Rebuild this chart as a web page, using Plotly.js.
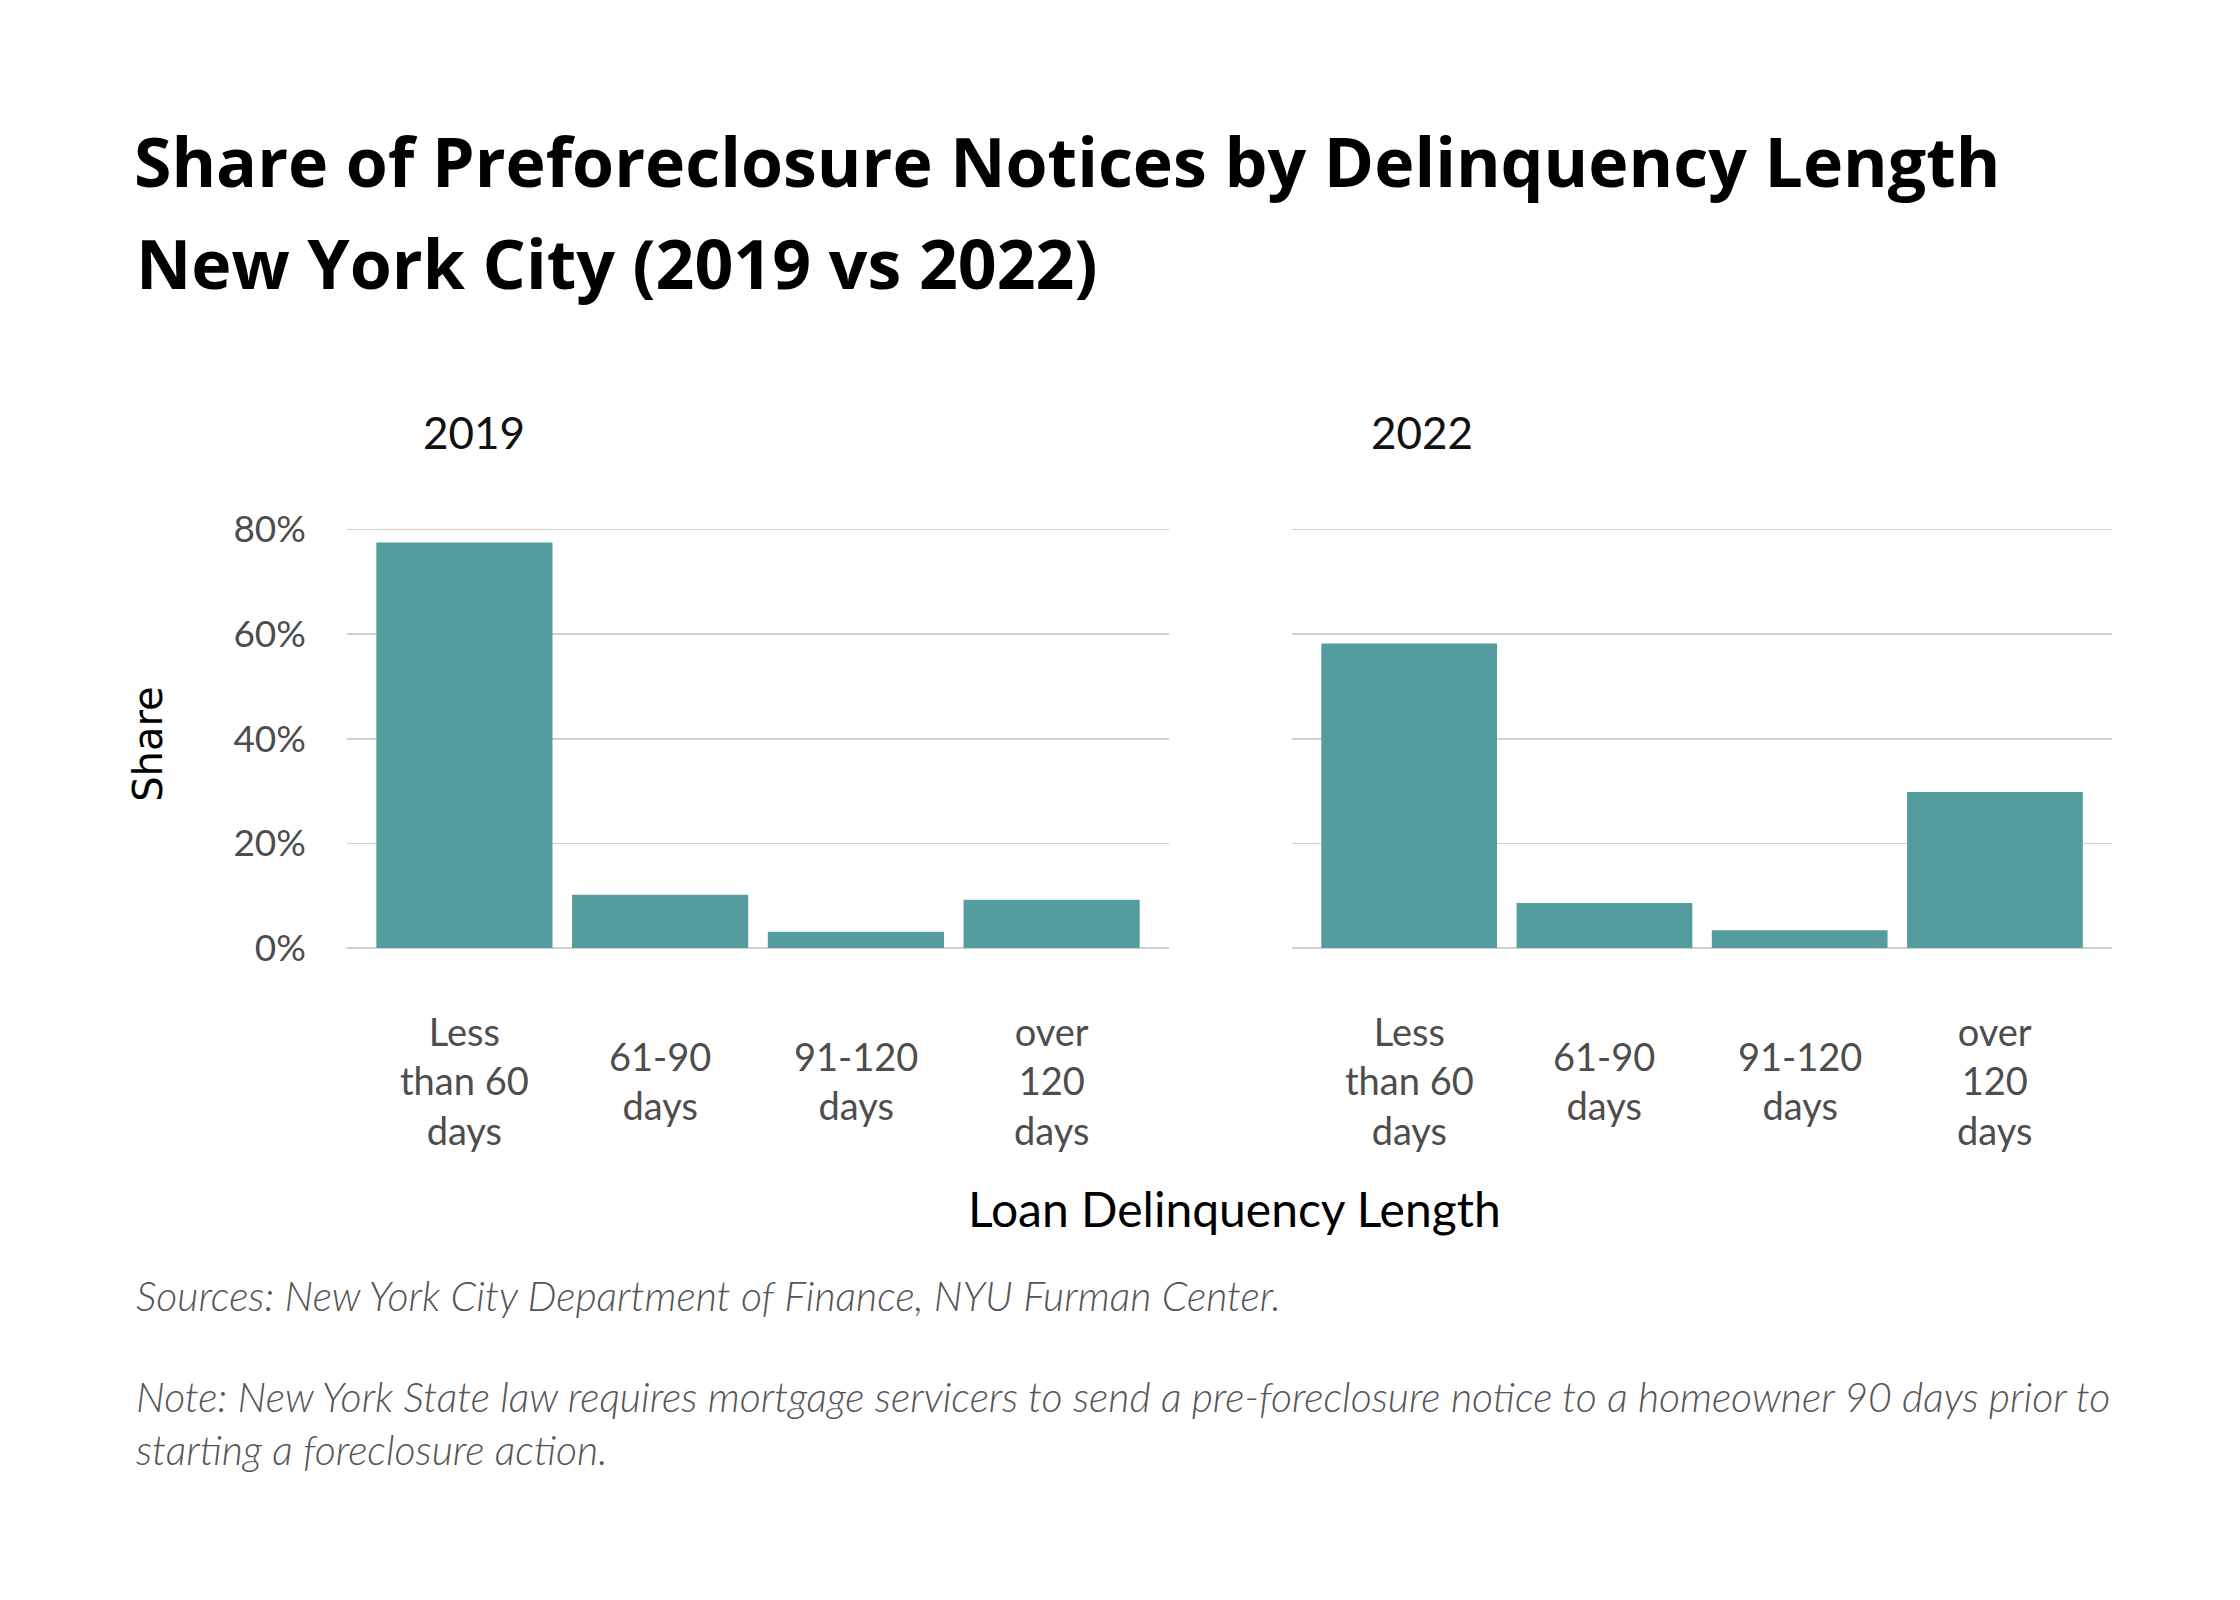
<!doctype html>
<html>
<head>
    <meta charset="utf-8">
    <title>Preforeclosure notices by delinquency length</title>
    <style>
        body {margin: 0; background: #ffffff;}
    </style>
    <script src="https://cdn.plot.ly/plotly-3.0.1.min.js"></script>
</head>
<body>
    <div id="chart"></div>
    <script>
        // ====== DATA ==================================================
        let categories = ['Less than 60 days', '61-90 days', '91-120 days', 'over 120 days'];
        let categoryLabels = ['Less<br>than 60<br>days', '61-90<br>days', '91-120<br>days', 'over<br>120<br>days'];
        let share2019 = [77.5, 10.2, 3.1, 9.2];
        let share2022 = [58.2, 8.6, 3.4, 29.8];
        let panelTitles = ['2019', '2022'];
        let yTicks = [0, 20, 40, 60, 80];
        let yTickText = ['0%', '20%', '40%', '60%', '80%'];

        let titleLine1 = 'Share of Preforeclosure Notices by Delinquency Length';
        let titleLine2 = 'New York City (2019 vs 2022)';
        let sourceText = 'Sources: New York City Department of Finance, NYU Furman Center.';
        let noteText = 'Note: New York State law requires mortgage servicers to send a pre-foreclosure notice to a homeowner 90 days prior to<br>starting a foreclosure action.';

        // ====== SETTINGS ==============================================
        let barColor = '#559c9e';
        let gridColor = '#d0d0d0';
        let tickColor = '#4d4d4d';
        let baseFont = 'Lato, "Open Sans", sans-serif';
        let titleFont = '"Open Sans", Lato, sans-serif';

        function yAxis(showLabels, anchor) {
            return {
                domain: [0.4075, 0.6707],
                range: [0, 80.5],
                anchor: anchor,
                tickmode: 'array',
                tickvals: yTicks,
                ticktext: yTickText,
                showticklabels: showLabels,
                ticklabelstandoff: 40,
                tickfont: {family: baseFont, size: 37, color: tickColor},
                showgrid: true,
                gridcolor: gridColor,
                gridwidth: 1.5,
                zeroline: true,
                zerolinecolor: gridColor,
                zerolinewidth: 1.5,
                showline: false,
                ticks: '',
                fixedrange: true,
            };
        }

        function xAxis(domain, anchor) {
            return {
                domain: domain,
                anchor: anchor,
                type: 'category',
                range: [-0.6, 3.6],
                showticklabels: false,
                showgrid: false,
                zeroline: false,
                showline: false,
                ticks: '',
                fixedrange: true,
            };
        }

        // ====== PLOT ==================================================
        let traces = [
            {
                type: 'bar',
                x: categories,
                y: share2019,
                xaxis: 'x',
                yaxis: 'y',
                marker: {color: barColor},
                hoverinfo: 'skip',
            },
            {
                type: 'bar',
                x: categories,
                y: share2022,
                xaxis: 'x2',
                yaxis: 'y2',
                marker: {color: barColor},
                hoverinfo: 'skip',
            },
        ];

        let annotations = [];

        // category labels under each panel, vertically centred like the original
        ['x', 'x2'].forEach(function (xref) {
            categories.forEach(function (cat, i) {
                annotations.push({
                    xref: xref, yref: 'paper',
                    x: cat, y: 0.325,
                    yanchor: 'middle', xanchor: 'center',
                    text: categoryLabels[i],
                    showarrow: false,
                    align: 'center',
                    font: {family: baseFont, size: 38, color: tickColor},
                });
            });
        });

        // panel titles
        let panelX = [0.2116, 0.6348];
        panelTitles.forEach(function (t, i) {
            annotations.push({
                xref: 'paper', yref: 'paper',
                x: panelX[i], y: 0.73,
                xanchor: 'center', yanchor: 'middle',
                text: t, showarrow: false,
                font: {family: baseFont, size: 44, color: '#111111'},
            });
        });

        annotations.push(
            {   // y axis title
                xref: 'paper', yref: 'paper',
                x: 0.066, y: 0.535,
                xanchor: 'center', yanchor: 'middle',
                text: 'Share', textangle: -90, showarrow: false,
                font: {family: '"DejaVu Sans", sans-serif', size: 40, color: '#000000'},
            },
            {   // x axis title
                xref: 'paper', yref: 'paper',
                x: 0.551, y: 0.2444,
                xanchor: 'center', yanchor: 'middle',
                text: 'Loan Delinquency Length', showarrow: false,
                font: {family: baseFont, size: 48, color: '#000000'},
            },
            {   // second title line
                xref: 'paper', yref: 'paper',
                x: 0.0598, y: 1 - 262 / 1600,
                xanchor: 'left', yanchor: 'middle',
                text: '<b>' + titleLine2 + '</b>', showarrow: false,
                font: {family: titleFont, size: 68, color: '#000000'},
            },
            {
                xref: 'paper', yref: 'paper',
                x: 0.0598, y: 1 - 1295 / 1600,
                xanchor: 'left', yanchor: 'middle',
                text: '<i>' + sourceText + '</i>', showarrow: false,
                font: {family: baseFont, size: 41, weight: 300, color: '#555555'},
            },
            {
                xref: 'paper', yref: 'paper',
                x: 0.0598, y: 1 - 1423 / 1600,
                xanchor: 'left', yanchor: 'middle', align: 'left',
                text: '<i>' + noteText + '</i>', showarrow: false,
                font: {family: baseFont, size: 41, weight: 300, color: '#555555'},
            }
        );

        let layout = {
            width: 2240,
            height: 1600,
            margin: {l: 0, r: 0, t: 0, b: 0},
            paper_bgcolor: '#ffffff',
            plot_bgcolor: '#ffffff',
            showlegend: false,
            bargap: 0.1,
            title: {
                text: '<b>' + titleLine1 + '</b>',
                xref: 'paper', yref: 'paper',
                x: 0.0598, xanchor: 'left',
                y: 1 - 163 / 1600, yanchor: 'middle',
                font: {family: titleFont, size: 68, color: '#000000'},
            },
            xaxis: xAxis([0.1549, 0.5219], 'y'),
            yaxis: yAxis(true, 'x'),
            xaxis2: xAxis([0.5768, 0.9429], 'y2'),
            yaxis2: yAxis(false, 'x2'),
            annotations: annotations,
        };

        let config = {
            displayModeBar: false,
            staticPlot: true,
        };

        Plotly.newPlot(document.getElementById('chart'), traces, layout, config);
    </script>
</body>
</html>
